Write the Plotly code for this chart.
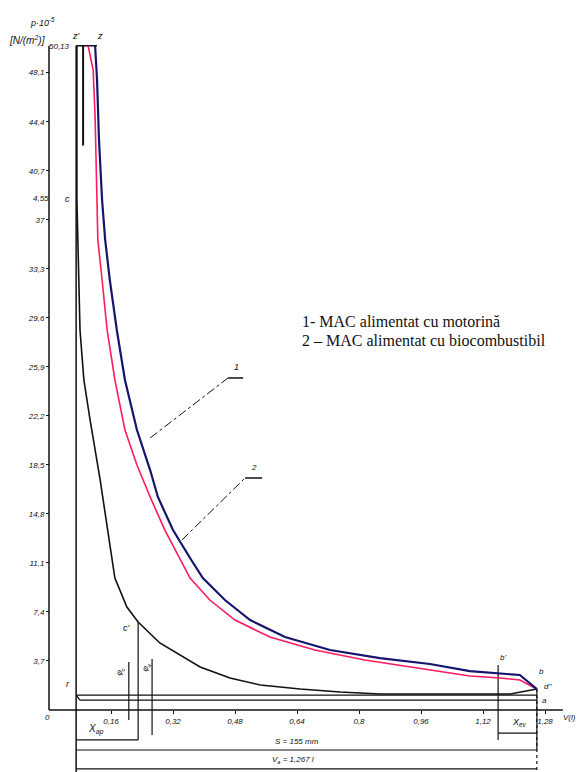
import plotly.graph_objects as go

# ---------------- data (V in litres, p in 1e5 N/m^2) ----------------
p_z = 50.13
V_c = 0.070
V_a = 1.259

# expansion line 1 (diesel) - blue
V1 = [0.119, 0.124, 0.129, 0.137, 0.145, 0.157, 0.175, 0.196, 0.227, 0.261, 0.281,
      0.320, 0.364, 0.397, 0.454, 0.519, 0.609, 0.725, 0.854, 0.983, 1.086, 1.164, 1.215, 1.259]
p1 = [50.13, 47.55, 43.02, 38.49, 35.47, 32.45, 28.68, 24.91, 21.13, 18.11, 16.08,
      13.58, 11.47, 9.96, 8.30, 6.79, 5.51, 4.53, 3.92, 3.47, 2.94, 2.79, 2.64, 1.58]

# expansion line 2 (biofuel) - red
V2 = [0.101, 0.114, 0.119, 0.124, 0.126, 0.137, 0.150, 0.170, 0.196, 0.227, 0.261,
      0.299, 0.333, 0.364, 0.415, 0.480, 0.570, 0.686, 0.815, 0.957, 1.086, 1.164, 1.215, 1.259]
p2 = [50.13, 48.30, 44.75, 38.49, 35.47, 32.45, 28.68, 24.91, 21.13, 18.49, 16.08,
      13.58, 11.70, 9.96, 8.30, 6.79, 5.51, 4.53, 3.77, 3.17, 2.57, 2.42, 2.26, 1.58]

# compression line a -> c, combustion c -> z' -> z (black)
Vk = [0.124, 0.072, 0.072, 0.075, 0.080, 0.090, 0.106, 0.132, 0.152, 0.170, 0.201, 0.230,
      0.286, 0.390, 0.467, 0.545, 0.648, 0.751, 0.854, 1.035, 1.190, 1.259]
pk = [50.13, 50.13, 38.49, 33.96, 28.68, 24.91, 21.89, 17.36, 13.58, 9.96, 7.77, 6.64,
      5.06, 3.25, 2.42, 1.89, 1.58, 1.36, 1.21, 1.21, 1.21, 1.58]

# short black segment under z'
Vs = [0.088, 0.088]
ps = [50.13, 42.6]

# exhaust / intake lines
p_exh = 1.13
p_int = 0.75
V_int0 = 0.080

# auxiliary verticals
V_b = 1.159
V_c2 = 0.230
V_f1 = 0.206
V_f2 = 0.266
p_cprime = 6.64

# dimension levels (below axis)
p_dim_ap = -2.26
p_dim_ev = -1.74
p_dim_S = -3.02
p_dim_Va = -4.45
p_bottom = -4.68

x_ticks = [0.16, 0.32, 0.48, 0.64, 0.80, 0.96, 1.12, 1.28]
x_labels = ["0,16", "0,32", "0,48", "0,64", "0,8", "0,96", "1,12", "1,28"]
y_ticks = [3.7, 7.4, 11.1, 14.8, 18.5, 22.2, 25.9, 29.6, 33.3, 37.0, 40.7, 44.4, 48.1]
y_labels = ["3,7", "7,4", "11,1", "14,8", "18,5", "22,2", "25,9", "29,6", "33,3", "37", "40,7", "44,4", "48,1"]

# leader lines for curve labels
lead1_V = [0.261, 0.462, 0.501]
lead1_p = [20.53, 25.06, 25.06]
lead2_V = [0.343, 0.506, 0.550]
lead2_p = [12.83, 17.51, 17.51]

legend_lines = ["1- MAC alimentat cu motorină", "2 – MAC alimentat cu biocombustibil"]

# ---------------- figure ----------------
fig = go.Figure()
K = "#111111"

def seg(xs, ys, color=K, width=1.3, dash="solid"):
    fig.add_trace(go.Scatter(x=xs, y=ys, mode="lines", line=dict(color=color, width=width, dash=dash),
                             hoverinfo="skip", showlegend=False))

# axes lines
seg([0, 0], [0, p_z], width=1.5)
seg([0, 1.326], [0, 0], width=1.5)

# V_c vertical line
seg([V_c, V_c], [p_z, p_bottom], width=1.5)
# right vertical at V_a
seg([V_a, V_a], [1.58, p_bottom], width=1.2, dash="dot")
seg([V_a, V_a], [1.58, p_dim_S], width=1.2)
# exhaust and intake lines
seg([V_c, V_a], [p_exh, p_exh], width=1.3)
seg([V_c, V_int0, V_a], [p_exh, p_int, p_int], width=1.3)
# auxiliary verticals
seg([V_b, V_b], [3.40, p_dim_ap], width=1.2)
seg([V_f1, V_f1], [3.62, -0.75], width=1.2)
seg([V_c2, V_c2], [p_cprime, p_dim_ap], width=1.2)
seg([V_f2, V_f2], [3.85, -1.89], width=1.2)
# dimension lines
seg([V_c, V_c2], [p_dim_ap, p_dim_ap], width=1.2)
seg([V_b, V_a], [p_dim_ev, p_dim_ev], width=1.2)
seg([V_c, V_a], [p_dim_S, p_dim_S], width=1.2)
seg([V_c, V_a], [p_dim_Va, p_dim_Va], width=1.2)

# curves
seg(Vk, pk, color=K, width=1.6)
seg(Vs, ps, color=K, width=2)
seg(V2, p2, color="#ff1a5e", width=1.6)
seg(V1, p1, color="#15156e", width=2.2)

# leaders
seg(lead1_V[:2], lead1_p[:2], width=1, dash="dashdot")
seg(lead1_V[1:], lead1_p[1:], width=1.5)
seg(lead2_V[:2], lead2_p[:2], width=1, dash="dashdot")
seg(lead2_V[1:], lead2_p[1:], width=1.5)

ann = []
def txt(x, y, t, size=9, xanchor="center", italic=True, family="Liberation Sans", angle=0):
    ann.append(dict(x=x, y=y, xref="x", yref="y", text=t, showarrow=False, xanchor=xanchor,
                    textangle=angle,
                    font=dict(size=size, color="#111", family=family, style="italic" if italic else "normal")))

txt(0.070, 50.9, "z'")
txt(0.132, 50.9, "z")
txt(0.028, 50.1, "50,13", size=8)
txt(0.049, 38.6, "c")
txt(-0.02, 38.6, "4,55", size=8)
txt(0.049, 2.0, "r")
txt(0.201, 6.2, "c'")
txt(0.183, 2.9, "φ<sub>c</sub>", angle=-70, size=8)
txt(0.250, 3.2, "φ<sub>a</sub>", angle=-70, size=8)
txt(1.172, 3.95, "b'", size=8)
txt(1.272, 2.87, "b", size=8)
txt(1.287, 1.81, "d''", size=8)
txt(1.278, 0.68, "a", size=8)
txt(0.122, -1.45, "X<sub>ap</sub>", size=10)
txt(1.215, -0.95, "X<sub>ev</sub>", size=9)
txt(0.640, -2.35, "S = 155 mm", size=8)
txt(0.630, -3.80, "V<sub>a</sub> = 1,267 l", size=8)
txt(-0.005, -0.6, "0", size=8)
txt(1.365, -0.6, "V(l)", size=8, xanchor="right")
txt(0.484, 25.9, "1", size=9)
txt(0.528, 18.3, "2", size=8)
txt(-0.018, 51.95, "p·10<sup>-5</sup>", size=9)
txt(-0.058, 50.6, "[N/(m<sup>2</sup>)]", size=10)
txt(0.648, 29.3, legend_lines[0], size=16, xanchor="left", italic=False, family="Liberation Serif")
txt(0.648, 27.9, legend_lines[1], size=16, xanchor="left", italic=False, family="Liberation Serif")

# the page body has an 8px margin: the canvas spans screen pixels 8..585 x 8..772
W, H = 577, 764
fig.update_layout(
    width=W, height=H,
    margin=dict(l=0, r=0, t=0, b=0),
    paper_bgcolor="white", plot_bgcolor="white",
    annotations=ann,
    showlegend=False,
    xaxis=dict(range=[(8 - 49) / 387.5, (585 - 49) / 387.5], anchor="free", position=62 / H,
               tickvals=x_ticks, ticktext=x_labels, ticks="outside", ticklen=3, tickcolor=K,
               showline=False, showgrid=False, zeroline=False,
               tickfont=dict(size=8, color="#111", family="Liberation Sans", style="italic")),
    yaxis=dict(range=[-62 / 13.25, (710 - 8) / 13.25], anchor="free", position=41 / W,
               tickvals=y_ticks, ticktext=y_labels, ticks="outside", ticklen=3, tickcolor=K,
               showline=False, showgrid=False, zeroline=False,
               tickfont=dict(size=8, color="#111", family="Liberation Sans", style="italic")),
)

fig.write_html("out.html")
